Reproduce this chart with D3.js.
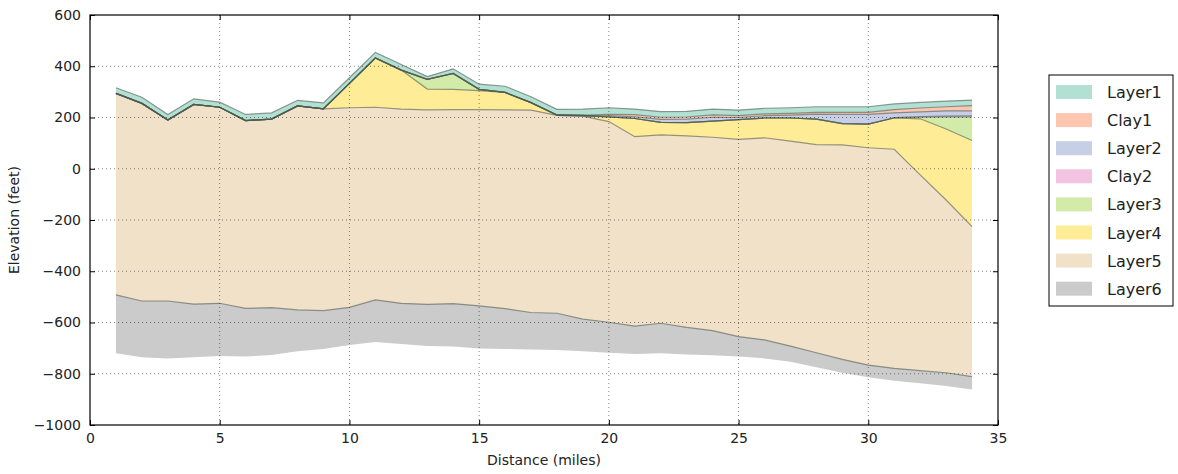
<!DOCTYPE html>
<html>
	<head>
		<meta charset="utf-8" />
		<script type="text/javascript" src="https://cdn.jsdelivr.net/npm/d3@7"></script>
		<style type="text/css">

html, body {
  margin: 0;
  padding: 0;
  background: #fff;
}

#chart text {
  font-family: "DejaVu Sans", sans-serif;
  fill: #222;
}

.grid line {
  stroke: #000;
  stroke-width: 0.6;
  stroke-dasharray: 1,3;
  opacity: 0.8;
}

.surface {
  fill: none;
  stroke: #4e5a50;
  stroke-width: 1.2;
  stroke-opacity: 0.6;
}
		</style>
	</head>

	<body>
		<div id="chart"></div>
		<script type="text/javascript">

var distance = [1, 2, 3, 4, 5, 6, 7, 8, 9, 10, 11, 12, 13, 14, 15, 16, 17,
	18, 19, 20, 21, 22, 23, 24, 25, 26, 27, 28, 29, 30, 31, 32, 33, 34];

// elevation of the top of each layer (feet), plus the base of the last one
var layer1Top = [316, 279, 212, 273, 260, 212, 218, 267, 257, 355, 454, 407, 360, 390, 330, 322, 281,
	232, 233, 238, 233, 223, 224, 233, 229, 236, 238, 242, 242, 242, 253, 259, 264, 268];
var clay1Top = [294, 255, 190, 251, 240, 188, 194, 245, 234, 333, 432, 385, 349, 372, 310, 298, 258,
	210, 208, 212, 211, 201, 202, 210, 207, 214, 216, 220, 220, 220, 231, 237, 242, 246];
var layer2Top = [294, 255, 190, 251, 240, 188, 194, 245, 234, 333, 432, 385, 349, 372, 310, 298, 258,
	210, 208, 206, 203, 193, 194, 201, 200, 207, 209, 213, 212, 212, 218, 222, 226, 226];
var clay2Top = [294, 255, 190, 251, 240, 188, 194, 245, 234, 333, 432, 385, 349, 372, 310, 298, 258,
	210, 208, 202, 196, 181, 180, 186, 192, 198, 198, 194, 176, 174, 200, 204, 205, 206];
var layer3Top = [294, 255, 190, 251, 240, 188, 194, 245, 234, 333, 432, 385, 349, 372, 310, 298, 258,
	210, 208, 202, 196, 181, 180, 186, 192, 198, 198, 194, 176, 174, 198, 201, 202, 202];
var layer4Top = [294, 255, 190, 251, 240, 188, 194, 245, 234, 333, 432, 385, 311, 310, 305, 298, 258,
	208, 205, 202, 196, 181, 180, 186, 192, 198, 198, 194, 176, 174, 198, 195, 155, 110];
var layer5Top = [294, 255, 190, 251, 240, 188, 194, 245, 234, 238, 240, 233, 230, 231, 231, 230, 229,
	208, 205, 184, 125, 132, 128, 123, 115, 121, 108, 94, 93, 82, 76, -24, -122, -226];
var layer6Top = [-492, -516, -516, -528, -525, -545, -542, -551, -554, -541, -512, -525, -529, -526, -535, -546, -561,
	-564, -587, -599, -614, -603, -619, -632, -655, -668, -692, -718, -744, -766, -779, -788, -796, -811];
var layer6Base = [-720, -736, -740, -736, -731, -733, -727, -712, -703, -688, -676, -684, -692, -694, -701, -703, -705,
	-707, -712, -718, -723, -720, -725, -728, -733, -740, -753, -775, -796, -814, -827, -837, -848, -861];

var layerNames = ['Layer1', 'Clay1', 'Layer2', 'Clay2', 'Layer3', 'Layer4', 'Layer5', 'Layer6'];
var surfaces = [layer1Top, clay1Top, layer2Top, clay2Top, layer3Top, layer4Top, layer5Top, layer6Top, layer6Base];

var xTicks = [0, 5, 10, 15, 20, 25, 30, 35];
var yTicks = [-1000, -800, -600, -400, -200, 0, 200, 400, 600];

var width = 1178, height = 474;
var plotLeft = 90, plotRight = 998, plotTop = 15, plotBottom = 425;

var svg = d3.select('#chart').append('svg')
	.attr('width', width)
	.attr('height', height);

var x = d3.scaleLinear().domain([0, 35]).range([plotLeft, plotRight]);
var y = d3.scaleLinear().domain([-1000, 600]).range([plotBottom, plotTop]);
var colors = d3.schemeSet2;
var alpha = function(i) { return i === 7 ? 0.68 : 0.5; };

svg.append('clipPath').attr('id', 'plot-clip')
	.append('rect')
	.attr('x', plotLeft).attr('y', plotTop)
	.attr('width', plotRight - plotLeft).attr('height', plotBottom - plotTop);

var plot = svg.append('g').attr('clip-path', 'url(#plot-clip)');

// fill between consecutive surfaces
layerNames.forEach(function(name, i) {
	var upper = surfaces[i], lower = surfaces[i + 1];
	var area = d3.area()
		.x(function(d, j) { return x(distance[j]); })
		.y0(function(d, j) { return y(lower[j]); })
		.y1(function(d, j) { return y(upper[j]); });
	plot.append('path')
		.datum(distance)
		.attr('d', area)
		.attr('fill', colors[i])
		.attr('fill-opacity', alpha(i));
});

// boundary lines (the base of Layer6 has none)
var line = d3.line()
	.x(function(d, j) { return x(distance[j]); })
	.y(function(d) { return y(d); });
surfaces.slice(0, 8).forEach(function(s) {
	plot.append('path')
		.datum(s)
		.attr('class', 'surface')
		.attr('d', line);
});

// dotted grid on top
var grid = svg.append('g').attr('class', 'grid');
grid.selectAll('line.gx').data(xTicks.slice(1, -1)).enter().append('line')
	.attr('x1', function(d) { return x(d); }).attr('x2', function(d) { return x(d); })
	.attr('y1', plotTop).attr('y2', plotBottom);
grid.selectAll('line.gy').data(yTicks.slice(1, -1)).enter().append('line')
	.attr('y1', function(d) { return y(d); }).attr('y2', function(d) { return y(d); })
	.attr('x1', plotLeft).attr('x2', plotRight);

// axes, ticks pointing inwards like classic matplotlib
var fmt = function(d) { return d < 0 ? '\u2212' + Math.abs(d) : d; };

var xAxis = svg.append('g')
	.attr('transform', 'translate(0,' + plotBottom + ')')
	.call(d3.axisBottom(x).tickValues(xTicks).tickSize(-5).tickPadding(8).tickFormat(fmt));
var xAxisTop = svg.append('g')
	.attr('transform', 'translate(0,' + plotTop + ')')
	.call(d3.axisTop(x).tickValues(xTicks).tickSize(-5).tickFormat(''));
var yAxis = svg.append('g')
	.attr('transform', 'translate(' + plotLeft + ',0)')
	.call(d3.axisLeft(y).tickValues(yTicks).tickSize(-5).tickPadding(9).tickFormat(fmt));
var yAxisRight = svg.append('g')
	.attr('transform', 'translate(' + plotRight + ',0)')
	.call(d3.axisRight(y).tickValues(yTicks).tickSize(-5).tickFormat(''));

[xAxis, xAxisTop, yAxis, yAxisRight].forEach(function(a) {
	a.select('.domain').remove();
	a.selectAll('line').attr('stroke', '#000');
	a.selectAll('text').style('font-size', '14px');
});

svg.append('rect')
	.attr('x', plotLeft).attr('y', plotTop)
	.attr('width', plotRight - plotLeft).attr('height', plotBottom - plotTop)
	.attr('fill', 'none')
	.attr('stroke', '#000')
	.attr('stroke-width', 1.2);

svg.append('text')
	.attr('x', (plotLeft + plotRight) / 2)
	.attr('y', 465)
	.attr('text-anchor', 'middle')
	.style('font-size', '14px')
	.text('Distance (miles)');

svg.append('text')
	.attr('transform', 'translate(19,' + ((plotTop + plotBottom) / 2) + ') rotate(-90)')
	.attr('text-anchor', 'middle')
	.style('font-size', '14px')
	.text('Elevation (feet)');

// legend
var legend = svg.append('g').attr('transform', 'translate(1049,75)');
legend.append('rect')
	.attr('width', 124).attr('height', 231)
	.attr('fill', '#fff')
	.attr('stroke', '#000')
	.attr('stroke-width', 1);

var item = legend.selectAll('g.item').data(layerNames).enter().append('g')
	.attr('class', 'item')
	.attr('transform', function(d, i) { return 'translate(0,' + (17 + i * 28.1) + ')'; });
item.append('rect')
	.attr('x', 7).attr('y', -7)
	.attr('width', 36).attr('height', 14)
	.attr('fill', function(d, i) { return colors[i]; })
	.attr('fill-opacity', function(d, i) { return alpha(i); });
item.append('text')
	.attr('x', 58).attr('y', 6)
	.style('font-size', '16px')
	.text(function(d) { return d; });

		</script>
	</body>
</html>
